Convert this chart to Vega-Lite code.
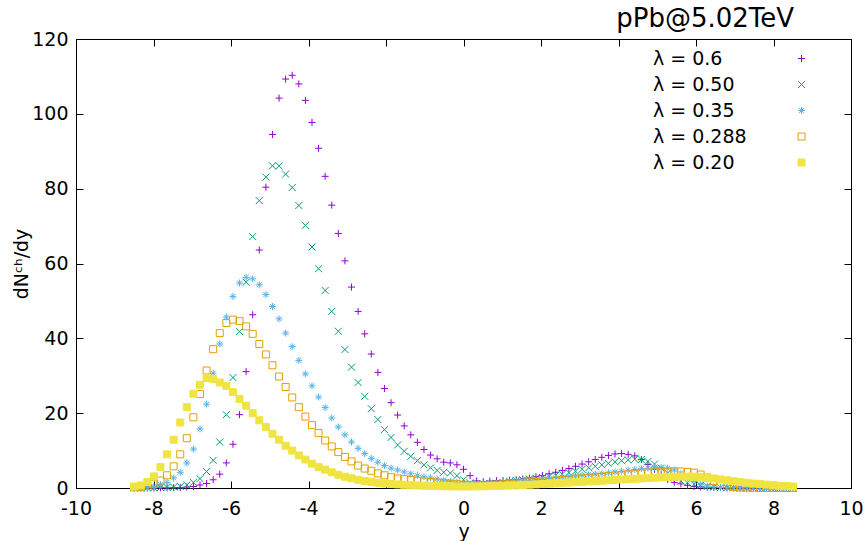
{
"$schema":"https://vega.github.io/schema/vega-lite/v6.json",
"width":775,"height":449,
"autosize":{"type":"none"},
"padding":{"left":76,"top":39,"right":15,"bottom":53},
"background":"white",
"title":{"text":"pPb@5.02TeV","anchor":"end","dx":-69,"fontSize":26,"font":"DejaVu Sans","fontWeight":"normal","color":"#000","offset":-28,"baseline":"bottom"},
"config":{"view":{"stroke":"#000","strokeWidth":1},
"axis":{"domainColor":"#000","tickColor":"#000","labelColor":"#000","labelFont":"DejaVu Sans","labelFontSize":19,"titleFont":"DejaVu Sans","titleFontSize":19,"titleFontWeight":"normal","titleColor":"#000","grid":false,"tickSize":-7,"domainWidth":1,"tickWidth":1,"labelFlush":false,"labelOverlap":false}},
"datasets":{"d":[
{"s":"0.6","x":-8.5,"y":0},{"s":"0.6","x":-8.33,"y":0},{"s":"0.6","x":-8.16,"y":0},{"s":"0.6","x":-7.99,"y":0},{"s":"0.6","x":-7.82,"y":0.05},{"s":"0.6","x":-7.65,"y":0.05},{"s":"0.6","x":-7.48,"y":0.1},{"s":"0.6","x":-7.31,"y":0.15},{"s":"0.6","x":-7.14,"y":0.25},{"s":"0.6","x":-6.97,"y":0.4},{"s":"0.6","x":-6.8,"y":0.8},{"s":"0.6","x":-6.63,"y":1.2},{"s":"0.6","x":-6.46,"y":2.2},{"s":"0.6","x":-6.29,"y":3.7},{"s":"0.6","x":-6.12,"y":6.7},{"s":"0.6","x":-5.95,"y":11.7},{"s":"0.6","x":-5.78,"y":19.6},{"s":"0.6","x":-5.61,"y":31.1},{"s":"0.6","x":-5.44,"y":46.3},{"s":"0.6","x":-5.27,"y":63.6},{"s":"0.6","x":-5.1,"y":80.4},{"s":"0.6","x":-4.93,"y":94.5},{"s":"0.6","x":-4.76,"y":104.2},{"s":"0.6","x":-4.59,"y":109.3},{"s":"0.6","x":-4.42,"y":110.3},{"s":"0.6","x":-4.25,"y":108.0},{"s":"0.6","x":-4.08,"y":103.6},{"s":"0.6","x":-3.91,"y":97.7},{"s":"0.6","x":-3.74,"y":90.8},{"s":"0.6","x":-3.57,"y":83.3},{"s":"0.6","x":-3.4,"y":75.6},{"s":"0.6","x":-3.23,"y":68.0},{"s":"0.6","x":-3.06,"y":60.7},{"s":"0.6","x":-2.89,"y":53.7},{"s":"0.6","x":-2.72,"y":47.2},{"s":"0.6","x":-2.55,"y":41.2},{"s":"0.6","x":-2.38,"y":35.8},{"s":"0.6","x":-2.21,"y":30.9},{"s":"0.6","x":-2.04,"y":26.6},{"s":"0.6","x":-1.87,"y":22.8},{"s":"0.6","x":-1.7,"y":19.5},{"s":"0.6","x":-1.53,"y":16.6},{"s":"0.6","x":-1.36,"y":14.2},{"s":"0.6","x":-1.19,"y":12.2},{"s":"0.6","x":-1.02,"y":10.3},{"s":"0.6","x":-0.85,"y":8.8},{"s":"0.6","x":-0.68,"y":7.8},{"s":"0.6","x":-0.51,"y":6.9},{"s":"0.6","x":-0.34,"y":6.7},{"s":"0.6","x":-0.17,"y":6.2},{"s":"0.6","x":0,"y":5.0},{"s":"0.6","x":0.17,"y":3.3},{"s":"0.6","x":0.34,"y":1.9},{"s":"0.6","x":0.51,"y":1.7},{"s":"0.6","x":0.68,"y":1.85},{"s":"0.6","x":0.85,"y":1.95},{"s":"0.6","x":1.02,"y":2.0},{"s":"0.6","x":1.19,"y":2.1},{"s":"0.6","x":1.36,"y":2.2},{"s":"0.6","x":1.53,"y":2.4},{"s":"0.6","x":1.7,"y":2.65},{"s":"0.6","x":1.87,"y":3.0},{"s":"0.6","x":2.04,"y":3.3},{"s":"0.6","x":2.21,"y":3.8},{"s":"0.6","x":2.38,"y":4.2},{"s":"0.6","x":2.55,"y":4.7},{"s":"0.6","x":2.72,"y":5.2},{"s":"0.6","x":2.89,"y":5.8},{"s":"0.6","x":3.06,"y":6.4},{"s":"0.6","x":3.23,"y":7.0},{"s":"0.6","x":3.4,"y":7.6},{"s":"0.6","x":3.57,"y":8.2},{"s":"0.6","x":3.74,"y":8.7},{"s":"0.6","x":3.91,"y":9.1},{"s":"0.6","x":4.08,"y":9.2},{"s":"0.6","x":4.25,"y":9.0},{"s":"0.6","x":4.42,"y":8.6},{"s":"0.6","x":4.59,"y":7.6},{"s":"0.6","x":4.76,"y":6.3},{"s":"0.6","x":4.93,"y":5.0},{"s":"0.6","x":5.1,"y":3.6},{"s":"0.6","x":5.27,"y":2.3},{"s":"0.6","x":5.44,"y":1.5},{"s":"0.6","x":5.61,"y":1.1},{"s":"0.6","x":5.78,"y":0.7},{"s":"0.6","x":5.95,"y":0.4},{"s":"0.6","x":6.12,"y":0.3},{"s":"0.6","x":6.29,"y":0.2},{"s":"0.6","x":6.46,"y":0.15},{"s":"0.6","x":6.63,"y":0.1},{"s":"0.6","x":6.8,"y":0.05},{"s":"0.6","x":6.97,"y":0},{"s":"0.6","x":7.14,"y":0},{"s":"0.6","x":7.31,"y":0},{"s":"0.6","x":7.48,"y":0},{"s":"0.6","x":7.65,"y":0},{"s":"0.6","x":7.82,"y":0},{"s":"0.6","x":7.99,"y":0},{"s":"0.6","x":8.16,"y":0},{"s":"0.6","x":8.33,"y":0},{"s":"0.6","x":8.5,"y":0},
{"s":"0.50","x":-8.5,"y":0},{"s":"0.50","x":-8.33,"y":0},{"s":"0.50","x":-8.16,"y":0.05},{"s":"0.50","x":-7.99,"y":0.05},{"s":"0.50","x":-7.82,"y":0.1},{"s":"0.50","x":-7.65,"y":0.15},{"s":"0.50","x":-7.48,"y":0.25},{"s":"0.50","x":-7.31,"y":0.4},{"s":"0.50","x":-7.14,"y":0.8},{"s":"0.50","x":-6.97,"y":1.5},{"s":"0.50","x":-6.8,"y":2.5},{"s":"0.50","x":-6.63,"y":4.4},{"s":"0.50","x":-6.46,"y":7.4},{"s":"0.50","x":-6.29,"y":12.3},{"s":"0.50","x":-6.12,"y":19.6},{"s":"0.50","x":-5.95,"y":29.5},{"s":"0.50","x":-5.78,"y":41.8},{"s":"0.50","x":-5.61,"y":55.0},{"s":"0.50","x":-5.44,"y":67.2},{"s":"0.50","x":-5.27,"y":76.8},{"s":"0.50","x":-5.1,"y":83.1},{"s":"0.50","x":-4.93,"y":86.1},{"s":"0.50","x":-4.76,"y":86.1},{"s":"0.50","x":-4.59,"y":83.9},{"s":"0.50","x":-4.42,"y":80.3},{"s":"0.50","x":-4.25,"y":75.5},{"s":"0.50","x":-4.08,"y":70.2},{"s":"0.50","x":-3.91,"y":64.4},{"s":"0.50","x":-3.74,"y":58.6},{"s":"0.50","x":-3.57,"y":52.8},{"s":"0.50","x":-3.4,"y":47.2},{"s":"0.50","x":-3.23,"y":41.9},{"s":"0.50","x":-3.06,"y":37.0},{"s":"0.50","x":-2.89,"y":32.3},{"s":"0.50","x":-2.72,"y":28.2},{"s":"0.50","x":-2.55,"y":24.5},{"s":"0.50","x":-2.38,"y":21.2},{"s":"0.50","x":-2.21,"y":18.3},{"s":"0.50","x":-2.04,"y":15.6},{"s":"0.50","x":-1.87,"y":13.5},{"s":"0.50","x":-1.7,"y":11.5},{"s":"0.50","x":-1.53,"y":9.8},{"s":"0.50","x":-1.36,"y":8.45},{"s":"0.50","x":-1.19,"y":7.3},{"s":"0.50","x":-1.02,"y":6.2},{"s":"0.50","x":-0.85,"y":5.4},{"s":"0.50","x":-0.68,"y":4.7},{"s":"0.50","x":-0.51,"y":4.2},{"s":"0.50","x":-0.34,"y":4.0},{"s":"0.50","x":-0.17,"y":3.3},{"s":"0.50","x":0,"y":2.2},{"s":"0.50","x":0.17,"y":1.4},{"s":"0.50","x":0.34,"y":1.1},{"s":"0.50","x":0.51,"y":1.1},{"s":"0.50","x":0.68,"y":1.2},{"s":"0.50","x":0.85,"y":1.3},{"s":"0.50","x":1.02,"y":1.5},{"s":"0.50","x":1.19,"y":1.8},{"s":"0.50","x":1.36,"y":2.0},{"s":"0.50","x":1.53,"y":2.2},{"s":"0.50","x":1.7,"y":2.4},{"s":"0.50","x":1.87,"y":2.6},{"s":"0.50","x":2.04,"y":2.8},{"s":"0.50","x":2.21,"y":3.1},{"s":"0.50","x":2.38,"y":3.4},{"s":"0.50","x":2.55,"y":3.7},{"s":"0.50","x":2.72,"y":4.1},{"s":"0.50","x":2.89,"y":4.5},{"s":"0.50","x":3.06,"y":5.0},{"s":"0.50","x":3.23,"y":5.4},{"s":"0.50","x":3.4,"y":5.8},{"s":"0.50","x":3.57,"y":6.2},{"s":"0.50","x":3.74,"y":6.6},{"s":"0.50","x":3.91,"y":7.0},{"s":"0.50","x":4.08,"y":7.3},{"s":"0.50","x":4.25,"y":7.5},{"s":"0.50","x":4.42,"y":7.7},{"s":"0.50","x":4.59,"y":7.6},{"s":"0.50","x":4.76,"y":7.1},{"s":"0.50","x":4.93,"y":6.4},{"s":"0.50","x":5.1,"y":5.3},{"s":"0.50","x":5.27,"y":4.0},{"s":"0.50","x":5.44,"y":2.8},{"s":"0.50","x":5.61,"y":1.9},{"s":"0.50","x":5.78,"y":1.4},{"s":"0.50","x":5.95,"y":1.0},{"s":"0.50","x":6.12,"y":0.7},{"s":"0.50","x":6.29,"y":0.4},{"s":"0.50","x":6.46,"y":0.25},{"s":"0.50","x":6.63,"y":0.15},{"s":"0.50","x":6.8,"y":0.1},{"s":"0.50","x":6.97,"y":0.05},{"s":"0.50","x":7.14,"y":0},{"s":"0.50","x":7.31,"y":0},{"s":"0.50","x":7.48,"y":0},{"s":"0.50","x":7.65,"y":0},{"s":"0.50","x":7.82,"y":0},{"s":"0.50","x":7.99,"y":0},{"s":"0.50","x":8.16,"y":0},{"s":"0.50","x":8.33,"y":0},{"s":"0.50","x":8.5,"y":0},
{"s":"0.35","x":-8.5,"y":0.1},{"s":"0.35","x":-8.33,"y":0.15},{"s":"0.35","x":-8.16,"y":0.25},{"s":"0.35","x":-7.99,"y":0.4},{"s":"0.35","x":-7.82,"y":0.9},{"s":"0.35","x":-7.65,"y":1.5},{"s":"0.35","x":-7.48,"y":2.7},{"s":"0.35","x":-7.31,"y":4.2},{"s":"0.35","x":-7.14,"y":6.7},{"s":"0.35","x":-6.97,"y":10.4},{"s":"0.35","x":-6.8,"y":15.8},{"s":"0.35","x":-6.63,"y":22.4},{"s":"0.35","x":-6.46,"y":30.7},{"s":"0.35","x":-6.29,"y":38.5},{"s":"0.35","x":-6.12,"y":45.7},{"s":"0.35","x":-5.95,"y":51.2},{"s":"0.35","x":-5.78,"y":54.8},{"s":"0.35","x":-5.61,"y":56.3},{"s":"0.35","x":-5.44,"y":55.9},{"s":"0.35","x":-5.27,"y":54.3},{"s":"0.35","x":-5.1,"y":51.7},{"s":"0.35","x":-4.93,"y":48.5},{"s":"0.35","x":-4.76,"y":45.2},{"s":"0.35","x":-4.59,"y":41.4},{"s":"0.35","x":-4.42,"y":37.8},{"s":"0.35","x":-4.25,"y":34.1},{"s":"0.35","x":-4.08,"y":30.5},{"s":"0.35","x":-3.91,"y":27.3},{"s":"0.35","x":-3.74,"y":24.3},{"s":"0.35","x":-3.57,"y":21.5},{"s":"0.35","x":-3.4,"y":18.7},{"s":"0.35","x":-3.23,"y":16.3},{"s":"0.35","x":-3.06,"y":14.2},{"s":"0.35","x":-2.89,"y":12.3},{"s":"0.35","x":-2.72,"y":10.6},{"s":"0.35","x":-2.55,"y":9.2},{"s":"0.35","x":-2.38,"y":7.9},{"s":"0.35","x":-2.21,"y":6.9},{"s":"0.35","x":-2.04,"y":6.0},{"s":"0.35","x":-1.87,"y":5.3},{"s":"0.35","x":-1.7,"y":4.8},{"s":"0.35","x":-1.53,"y":4.3},{"s":"0.35","x":-1.36,"y":3.8},{"s":"0.35","x":-1.19,"y":3.4},{"s":"0.35","x":-1.02,"y":3.0},{"s":"0.35","x":-0.85,"y":2.7},{"s":"0.35","x":-0.68,"y":2.4},{"s":"0.35","x":-0.51,"y":2.1},{"s":"0.35","x":-0.34,"y":1.8},{"s":"0.35","x":-0.17,"y":1.5},{"s":"0.35","x":0,"y":1.2},{"s":"0.35","x":0.17,"y":1.0},{"s":"0.35","x":0.34,"y":0.9},{"s":"0.35","x":0.51,"y":0.95},{"s":"0.35","x":0.68,"y":1.1},{"s":"0.35","x":0.85,"y":1.25},{"s":"0.35","x":1.02,"y":1.4},{"s":"0.35","x":1.19,"y":1.55},{"s":"0.35","x":1.36,"y":1.7},{"s":"0.35","x":1.53,"y":1.9},{"s":"0.35","x":1.7,"y":2.05},{"s":"0.35","x":1.87,"y":2.2},{"s":"0.35","x":2.04,"y":2.4},{"s":"0.35","x":2.21,"y":2.55},{"s":"0.35","x":2.38,"y":2.7},{"s":"0.35","x":2.55,"y":2.9},{"s":"0.35","x":2.72,"y":3.05},{"s":"0.35","x":2.89,"y":3.2},{"s":"0.35","x":3.06,"y":3.4},{"s":"0.35","x":3.23,"y":3.55},{"s":"0.35","x":3.4,"y":3.7},{"s":"0.35","x":3.57,"y":3.85},{"s":"0.35","x":3.74,"y":4.05},{"s":"0.35","x":3.91,"y":4.3},{"s":"0.35","x":4.08,"y":4.5},{"s":"0.35","x":4.25,"y":4.75},{"s":"0.35","x":4.42,"y":4.95},{"s":"0.35","x":4.59,"y":5.15},{"s":"0.35","x":4.76,"y":5.3},{"s":"0.35","x":4.93,"y":5.45},{"s":"0.35","x":5.1,"y":5.5},{"s":"0.35","x":5.27,"y":5.3},{"s":"0.35","x":5.44,"y":4.8},{"s":"0.35","x":5.61,"y":3.9},{"s":"0.35","x":5.78,"y":2.8},{"s":"0.35","x":5.95,"y":1.8},{"s":"0.35","x":6.12,"y":1.0},{"s":"0.35","x":6.29,"y":0.55},{"s":"0.35","x":6.46,"y":0.3},{"s":"0.35","x":6.63,"y":0.15},{"s":"0.35","x":6.8,"y":0.1},{"s":"0.35","x":6.97,"y":0.05},{"s":"0.35","x":7.14,"y":0},{"s":"0.35","x":7.31,"y":0},{"s":"0.35","x":7.48,"y":0},{"s":"0.35","x":7.65,"y":0},{"s":"0.35","x":7.82,"y":0},{"s":"0.35","x":7.99,"y":0},{"s":"0.35","x":8.16,"y":0},{"s":"0.35","x":8.33,"y":0},{"s":"0.35","x":8.5,"y":0},
{"s":"0.288","x":-8.5,"y":0.2},{"s":"0.288","x":-8.33,"y":0.3},{"s":"0.288","x":-8.16,"y":0.6},{"s":"0.288","x":-7.99,"y":1.15},{"s":"0.288","x":-7.82,"y":2.0},{"s":"0.288","x":-7.65,"y":3.4},{"s":"0.288","x":-7.48,"y":5.8},{"s":"0.288","x":-7.31,"y":9.0},{"s":"0.288","x":-7.14,"y":13.3},{"s":"0.288","x":-6.97,"y":18.9},{"s":"0.288","x":-6.8,"y":25.1},{"s":"0.288","x":-6.63,"y":31.4},{"s":"0.288","x":-6.46,"y":37.1},{"s":"0.288","x":-6.29,"y":41.4},{"s":"0.288","x":-6.12,"y":44.1},{"s":"0.288","x":-5.95,"y":45.0},{"s":"0.288","x":-5.78,"y":44.6},{"s":"0.288","x":-5.61,"y":43.2},{"s":"0.288","x":-5.44,"y":41.2},{"s":"0.288","x":-5.27,"y":38.5},{"s":"0.288","x":-5.1,"y":35.7},{"s":"0.288","x":-4.93,"y":32.8},{"s":"0.288","x":-4.76,"y":29.8},{"s":"0.288","x":-4.59,"y":27.0},{"s":"0.288","x":-4.42,"y":24.2},{"s":"0.288","x":-4.25,"y":21.6},{"s":"0.288","x":-4.08,"y":19.1},{"s":"0.288","x":-3.91,"y":16.8},{"s":"0.288","x":-3.74,"y":14.7},{"s":"0.288","x":-3.57,"y":12.7},{"s":"0.288","x":-3.4,"y":11.1},{"s":"0.288","x":-3.23,"y":9.6},{"s":"0.288","x":-3.06,"y":8.3},{"s":"0.288","x":-2.89,"y":7.1},{"s":"0.288","x":-2.72,"y":6.0},{"s":"0.288","x":-2.55,"y":5.2},{"s":"0.288","x":-2.38,"y":4.6},{"s":"0.288","x":-2.21,"y":3.9},{"s":"0.288","x":-2.04,"y":3.4},{"s":"0.288","x":-1.87,"y":2.9},{"s":"0.288","x":-1.7,"y":2.55},{"s":"0.288","x":-1.53,"y":2.35},{"s":"0.288","x":-1.36,"y":2.15},{"s":"0.288","x":-1.19,"y":1.95},{"s":"0.288","x":-1.02,"y":1.75},{"s":"0.288","x":-0.85,"y":1.6},{"s":"0.288","x":-0.68,"y":1.45},{"s":"0.288","x":-0.51,"y":1.3},{"s":"0.288","x":-0.34,"y":1.15},{"s":"0.288","x":-0.17,"y":1.0},{"s":"0.288","x":0,"y":0.9},{"s":"0.288","x":0.17,"y":0.8},{"s":"0.288","x":0.34,"y":0.75},{"s":"0.288","x":0.51,"y":0.75},{"s":"0.288","x":0.68,"y":0.8},{"s":"0.288","x":0.85,"y":0.9},{"s":"0.288","x":1.02,"y":1.0},{"s":"0.288","x":1.19,"y":1.1},{"s":"0.288","x":1.36,"y":1.2},{"s":"0.288","x":1.53,"y":1.35},{"s":"0.288","x":1.7,"y":1.5},{"s":"0.288","x":1.87,"y":1.6},{"s":"0.288","x":2.04,"y":1.75},{"s":"0.288","x":2.21,"y":1.9},{"s":"0.288","x":2.38,"y":2.0},{"s":"0.288","x":2.55,"y":2.15},{"s":"0.288","x":2.72,"y":2.3},{"s":"0.288","x":2.89,"y":2.45},{"s":"0.288","x":3.06,"y":2.6},{"s":"0.288","x":3.23,"y":2.75},{"s":"0.288","x":3.4,"y":2.9},{"s":"0.288","x":3.57,"y":3.05},{"s":"0.288","x":3.74,"y":3.2},{"s":"0.288","x":3.91,"y":3.35},{"s":"0.288","x":4.08,"y":3.5},{"s":"0.288","x":4.25,"y":3.65},{"s":"0.288","x":4.42,"y":3.8},{"s":"0.288","x":4.59,"y":3.95},{"s":"0.288","x":4.76,"y":4.1},{"s":"0.288","x":4.93,"y":4.2},{"s":"0.288","x":5.1,"y":4.3},{"s":"0.288","x":5.27,"y":4.4},{"s":"0.288","x":5.44,"y":4.45},{"s":"0.288","x":5.61,"y":4.4},{"s":"0.288","x":5.78,"y":4.3},{"s":"0.288","x":5.95,"y":4.1},{"s":"0.288","x":6.12,"y":3.6},{"s":"0.288","x":6.29,"y":2.8},{"s":"0.288","x":6.46,"y":1.9},{"s":"0.288","x":6.63,"y":1.1},{"s":"0.288","x":6.8,"y":0.6},{"s":"0.288","x":6.97,"y":0.3},{"s":"0.288","x":7.14,"y":0.15},{"s":"0.288","x":7.31,"y":0.1},{"s":"0.288","x":7.48,"y":0.05},{"s":"0.288","x":7.65,"y":0},{"s":"0.288","x":7.82,"y":0},{"s":"0.288","x":7.99,"y":0},{"s":"0.288","x":8.16,"y":0},{"s":"0.288","x":8.33,"y":0},{"s":"0.288","x":8.5,"y":0},
{"s":"0.20","x":-8.5,"y":0.4},{"s":"0.20","x":-8.33,"y":0.7},{"s":"0.20","x":-8.16,"y":1.6},{"s":"0.20","x":-7.99,"y":3.1},{"s":"0.20","x":-7.82,"y":5.6},{"s":"0.20","x":-7.65,"y":9.0},{"s":"0.20","x":-7.48,"y":12.9},{"s":"0.20","x":-7.31,"y":17.5},{"s":"0.20","x":-7.14,"y":21.6},{"s":"0.20","x":-6.97,"y":25.2},{"s":"0.20","x":-6.8,"y":27.6},{"s":"0.20","x":-6.63,"y":29.4},{"s":"0.20","x":-6.46,"y":29.1},{"s":"0.20","x":-6.29,"y":28.2},{"s":"0.20","x":-6.12,"y":27.3},{"s":"0.20","x":-5.95,"y":25.6},{"s":"0.20","x":-5.78,"y":23.8},{"s":"0.20","x":-5.61,"y":22.0},{"s":"0.20","x":-5.44,"y":20.0},{"s":"0.20","x":-5.27,"y":18.1},{"s":"0.20","x":-5.1,"y":16.3},{"s":"0.20","x":-4.93,"y":14.5},{"s":"0.20","x":-4.76,"y":12.9},{"s":"0.20","x":-4.59,"y":11.3},{"s":"0.20","x":-4.42,"y":10.0},{"s":"0.20","x":-4.25,"y":8.7},{"s":"0.20","x":-4.08,"y":7.6},{"s":"0.20","x":-3.91,"y":6.5},{"s":"0.20","x":-3.74,"y":5.6},{"s":"0.20","x":-3.57,"y":4.9},{"s":"0.20","x":-3.4,"y":4.2},{"s":"0.20","x":-3.23,"y":3.55},{"s":"0.20","x":-3.06,"y":3.0},{"s":"0.20","x":-2.89,"y":2.6},{"s":"0.20","x":-2.72,"y":2.2},{"s":"0.20","x":-2.55,"y":1.85},{"s":"0.20","x":-2.38,"y":1.6},{"s":"0.20","x":-2.21,"y":1.4},{"s":"0.20","x":-2.04,"y":1.2},{"s":"0.20","x":-1.87,"y":1.05},{"s":"0.20","x":-1.7,"y":0.95},{"s":"0.20","x":-1.53,"y":0.85},{"s":"0.20","x":-1.36,"y":0.75},{"s":"0.20","x":-1.19,"y":0.68},{"s":"0.20","x":-1.02,"y":0.62},{"s":"0.20","x":-0.85,"y":0.56},{"s":"0.20","x":-0.68,"y":0.52},{"s":"0.20","x":-0.51,"y":0.48},{"s":"0.20","x":-0.34,"y":0.45},{"s":"0.20","x":-0.17,"y":0.42},{"s":"0.20","x":0,"y":0.4},{"s":"0.20","x":0.17,"y":0.4},{"s":"0.20","x":0.34,"y":0.42},{"s":"0.20","x":0.51,"y":0.45},{"s":"0.20","x":0.68,"y":0.5},{"s":"0.20","x":0.85,"y":0.55},{"s":"0.20","x":1.02,"y":0.6},{"s":"0.20","x":1.19,"y":0.66},{"s":"0.20","x":1.36,"y":0.72},{"s":"0.20","x":1.53,"y":0.8},{"s":"0.20","x":1.7,"y":0.88},{"s":"0.20","x":1.87,"y":0.96},{"s":"0.20","x":2.04,"y":1.05},{"s":"0.20","x":2.21,"y":1.15},{"s":"0.20","x":2.38,"y":1.25},{"s":"0.20","x":2.55,"y":1.35},{"s":"0.20","x":2.72,"y":1.45},{"s":"0.20","x":2.89,"y":1.55},{"s":"0.20","x":3.06,"y":1.65},{"s":"0.20","x":3.23,"y":1.75},{"s":"0.20","x":3.4,"y":1.85},{"s":"0.20","x":3.57,"y":1.95},{"s":"0.20","x":3.74,"y":2.05},{"s":"0.20","x":3.91,"y":2.15},{"s":"0.20","x":4.08,"y":2.25},{"s":"0.20","x":4.25,"y":2.35},{"s":"0.20","x":4.42,"y":2.45},{"s":"0.20","x":4.59,"y":2.55},{"s":"0.20","x":4.76,"y":2.65},{"s":"0.20","x":4.93,"y":2.75},{"s":"0.20","x":5.1,"y":2.85},{"s":"0.20","x":5.27,"y":2.95},{"s":"0.20","x":5.44,"y":3.0},{"s":"0.20","x":5.61,"y":3.05},{"s":"0.20","x":5.78,"y":3.05},{"s":"0.20","x":5.95,"y":3.0},{"s":"0.20","x":6.12,"y":2.9},{"s":"0.20","x":6.29,"y":2.75},{"s":"0.20","x":6.46,"y":2.55},{"s":"0.20","x":6.63,"y":2.3},{"s":"0.20","x":6.8,"y":2.05},{"s":"0.20","x":6.97,"y":1.8},{"s":"0.20","x":7.14,"y":1.6},{"s":"0.20","x":7.31,"y":1.4},{"s":"0.20","x":7.48,"y":1.2},{"s":"0.20","x":7.65,"y":1.05},{"s":"0.20","x":7.82,"y":0.9},{"s":"0.20","x":7.99,"y":0.75},{"s":"0.20","x":8.16,"y":0.6},{"s":"0.20","x":8.33,"y":0.5},{"s":"0.20","x":8.5,"y":0.4}
]},
"data":{"name":"d"},
"layer":[
{"mark":{"type":"point","strokeWidth":1,"opacity":1},
"encoding":{
"x":{"field":"x","type":"quantitative","scale":{"domain":[-10,10],"nice":false,"zero":false},"axis":{"orient":"bottom","values":[-10,-8,-6,-4,-2,0,2,4,6,8,10],"title":"y","labelPadding":18,"titlePadding":4,"labelExpr":"datum.value < 0 ? '-' + abs(datum.value) : '' + datum.value"}},
"y":{"field":"y","type":"quantitative","scale":{"domain":[0,120],"nice":false},"axis":{"orient":"left","values":[0,20,40,60,80,100,120],"title":"dNᶜʰ/dy","labelPadding":15,"titlePadding":0}},
"stroke":{"field":"s","type":"nominal","scale":{"domain":["0.6","0.50","0.35","0.288","0.20"],"range":["#9400d3","#009e73","#56b4e9","#e69f00","#f0e442"]},"legend":{"title":null,"orient":"none","legendX":716,"legendY":10,"padding":0,"offset":0,"labelAlign":"left","labelOffset":-158,"labelFontSize":19,"labelFont":"DejaVu Sans","labelColor":"#000","rowPadding":6,"symbolStrokeWidth":1,"labelExpr":"'λ = ' + datum.label"}},
"fill":{"field":"s","type":"nominal","scale":{"domain":["0.6","0.50","0.35","0.288","0.20"],"range":["transparent","transparent","transparent","transparent","#f0e442"]},"legend":{"title":null,"orient":"none","legendX":716,"legendY":10,"padding":0,"offset":0,"labelAlign":"left","labelOffset":-158,"labelFontSize":19,"labelFont":"DejaVu Sans","labelColor":"#000","rowPadding":6,"symbolStrokeWidth":1,"labelExpr":"'λ = ' + datum.label"}},
"shape":{"field":"s","type":"nominal","scale":{"domain":["0.6","0.50","0.35","0.288","0.20"],"range":["M-1,0H1M0,-1V1","M-1,-1L1,1M-1,1L1,-1","M-1,0H1M0,-1V1M-0.7,-0.7L0.7,0.7M-0.7,0.7L0.7,-0.7","square","square"]},"legend":{"title":null,"orient":"none","legendX":716,"legendY":10,"padding":0,"offset":0,"labelAlign":"left","labelOffset":-158,"labelFontSize":19,"labelFont":"DejaVu Sans","labelColor":"#000","rowPadding":6,"symbolStrokeWidth":1,"labelExpr":"'λ = ' + datum.label"}},
"size":{"field":"s","type":"nominal","scale":{"domain":["0.6","0.50","0.35","0.288","0.20"],"range":[49,49,56,42,64]},"legend":{"title":null,"orient":"none","legendX":716,"legendY":10,"padding":0,"offset":0,"labelAlign":"left","labelOffset":-158,"labelFontSize":19,"labelFont":"DejaVu Sans","labelColor":"#000","rowPadding":6,"symbolStrokeWidth":1,"labelExpr":"'λ = ' + datum.label"}}
}},
{"mark":{"type":"point","opacity":0},
"encoding":{
"x":{"field":"x","type":"quantitative","axis":{"orient":"top","values":[-10,-8,-6,-4,-2,0,2,4,6,8,10],"labels":false,"title":null}},
"y":{"field":"y","type":"quantitative","axis":{"orient":"right","values":[0,20,40,60,80,100,120],"labels":false,"title":null}}
}}
],
"resolve":{"axis":{"x":"independent","y":"independent"}}
}
